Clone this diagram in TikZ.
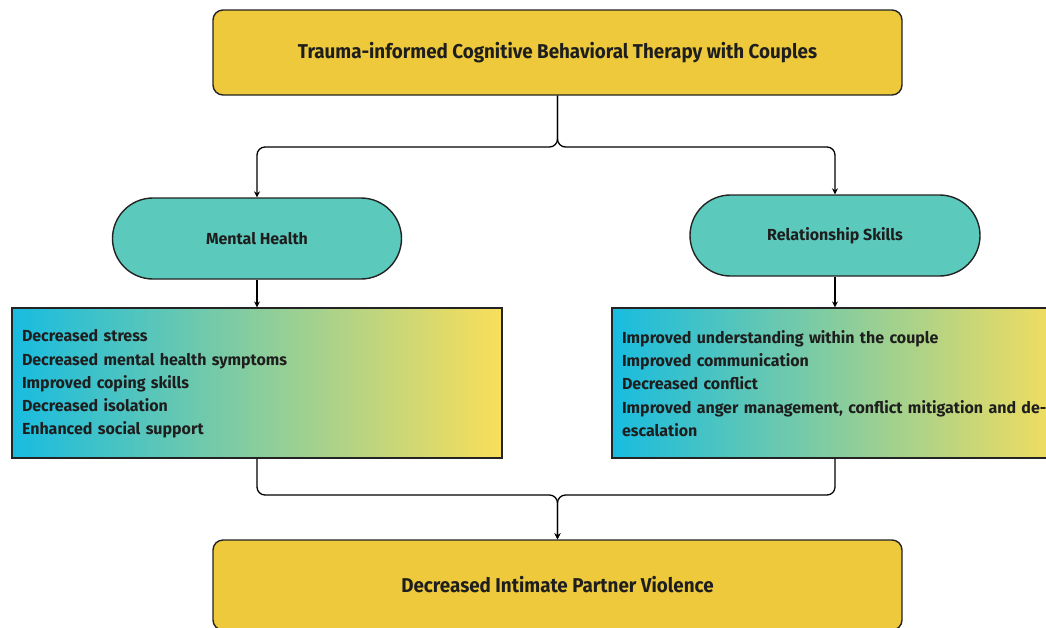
\documentclass[tikz,border=0pt]{standalone}
\usepackage{graphicx}
\usepackage{fontspec}
\setmainfont{Fira Sans}
\usetikzlibrary{arrows.meta}

\definecolor{boxyellow}{RGB}{237,201,59}
\definecolor{teal}{RGB}{92,201,189}
\definecolor{gradcyan}{RGB}{24,188,224}
\definecolor{gradgreen}{RGB}{150,210,150}
\definecolor{gradyellow}{RGB}{250,222,90}
\definecolor{ink}{RGB}{30,30,30}
\definecolor{edge}{RGB}{35,35,35}

\newcommand{\condensed}[1]{\scalebox{0.94}[1]{#1}}

\tikzset{
  mainbox/.style={draw=edge, line width=1.4pt, fill=boxyellow, rounded corners=10pt,
    minimum width=689pt, text=ink, font=\fontsize{20}{24}\selectfont\bfseries},
  pill/.style={draw=edge, line width=1.4pt, fill=teal, rounded corners=40.5pt,
    minimum height=81pt, text=ink, font=\fontsize{16}{19}\selectfont\bfseries},
  outcomes/.style={draw=edge, line width=1.2pt, left color=gradcyan, middle color=gradgreen,
    right color=gradyellow, minimum height=150pt, inner xsep=10pt, align=left,
    text=ink, font=\fontsize{16}{23.2}\selectfont\bfseries},
  conn/.style={draw=black, line width=1.3pt, rounded corners=8pt,
    -{Stealth[length=6pt,width=6pt]}}
}

\begin{document}
\begin{tikzpicture}[x=1pt,y=-1pt]
\useasboundingbox (0,0) rectangle (1046,627);

% main intervention and final outcome
\node[mainbox, minimum height=85pt] (top) at (557.5,52.5)
  {\condensed{Trauma-informed Cognitive Behavioral Therapy with Couples}};
\node[mainbox, minimum height=90pt] (bot) at (557.5,585)
  {\condensed{Decreased Intimate Partner Violence}};

% the two pathways
\node[pill, minimum width=289pt] (mh) at (257,238.5) {Mental Health};
\node[pill, minimum width=290pt] (rs) at (835,235.5) {Relationship Skills};

% outcome lists
\node[outcomes, minimum width=490pt, text width=470pt] (lbox) at (257,383)
  {\rule{0pt}{14pt}Decreased stress\\
   Decreased mental health symptoms\\
   Improved coping skills\\
   Decreased isolation\\
   Enhanced social support};
\node[outcomes, minimum width=460pt, text width=440pt] (rbox) at (842,383)
  {\rule{0pt}{14pt}Improved understanding within the couple\\
   Improved communication\\
   Decreased conflict\\
   Improved anger management, conflict mitigation and de-\\
   escalation};

% connectors
\coordinate (split) at (557.5,147);
\coordinate (merge) at (557.5,495);
\coordinate (rtop) at (rs.south |- rbox.north);
\coordinate (rbot) at (rs.south |- rbox.south);

\draw[conn] (top.south) -- (split) -| (mh.north);
\draw[conn] (top.south) -- (split) -| (rs.north);
\draw[conn] (mh.south) -- (lbox.north);
\draw[conn] (rs.south) -- (rtop);
\draw[conn] (lbox.south) |- (merge) -- (bot.north);
\draw[conn] (rbot) |- (merge) -- (bot.north);
\end{tikzpicture}
\end{document}
